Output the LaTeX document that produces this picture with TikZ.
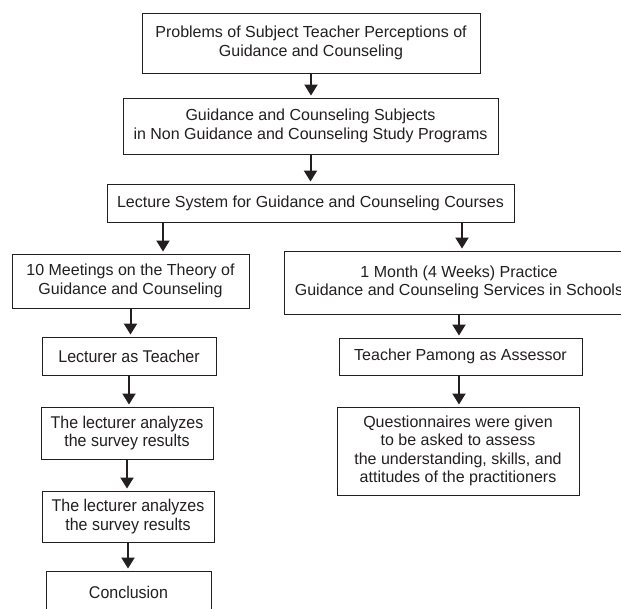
\documentclass[tikz,border=0pt]{standalone}
\usepackage{fontspec}
\setmainfont{Liberation Sans}
\newfontfamily\narrowfont[FakeStretch=0.94]{Liberation Sans}
\usetikzlibrary{arrows.meta}
\definecolor{ink}{HTML}{231F20}
\begin{document}
\begin{tikzpicture}[x=1pt,y=-1pt,
  box/.style={draw=ink, line width=0.9pt, align=center, text=ink, inner sep=0pt,
    font=\fontsize{16}{18.5}\selectfont},
  narrow/.style={font=\narrowfont\fontsize{17}{18.5}\selectfont},
  arr/.style={draw=ink, line width=2pt, -{Triangle[width=13pt,length=11pt]},
    shorten <=1pt, shorten >=2pt}]
\useasboundingbox (0,0) rectangle (621,608);
\fill[white] (0,0) rectangle (621,608);
% top chain
\node[box, minimum width=338pt, minimum height=60pt] (b1) at (311,43)
  {Problems of Subject Teacher Perceptions of\\Guidance and Counseling};
\node[box, minimum width=375pt, minimum height=56pt] (b2) at (310.5,126)
  {Guidance and Counseling Subjects\\in Non Guidance and Counseling Study Programs};
\node[box, minimum width=407pt, minimum height=38pt] (b3) at (310.5,203)
  {Lecture System for Guidance and Counseling Courses};
% left column
\node[box, minimum width=237pt, minimum height=54pt] (l1) at (130.5,281)
  {10 Meetings on the Theory of\\Guidance and Counseling};
\node[box, narrow, minimum width=174pt, minimum height=38pt] (l2) at (129,356)
  {Lecturer as Teacher};
\node[box, narrow, minimum width=172pt, minimum height=52pt] (l3) at (127,433)
  {The lecturer analyzes\\the survey results};
\node[box, narrow, minimum width=172pt, minimum height=51pt] (l4) at (128,516.5)
  {The lecturer analyzes\\the survey results};
\node[box, narrow, minimum width=165pt, minimum height=42pt] (l5) at (128.5,592)
  {Conclusion};
% right column
\node[box, minimum width=350pt, minimum height=63pt] (r1) at (459,282.5)
  {1 Month (4 Weeks) Practice\\Guidance and Counseling Services in Schools};
\node[box, minimum width=243pt, minimum height=37pt] (r2) at (460.5,356.5)
  {Teacher Pamong as Assessor};
\node[box, minimum width=242pt, minimum height=88pt] (r3) at (458,451)
  {Questionnaires were given\\to be asked to assess\\the understanding, skills, and\\attitudes of the practitioners};
% arrows
\draw[arr] (b1.south) -- (b1.south |- b2.north);
\draw[arr] (b2.south) -- (b2.south |- b3.north);
\draw[arr] ([xshift=32.5pt]l1.north |- b3.south) -- ([xshift=32.5pt]l1.north);
\draw[arr] ([xshift=3pt]r1.north |- b3.south) -- ([xshift=3pt]r1.north);
\draw[arr] (l1.south) -- (l1.south |- l2.north);
\draw[arr] (l2.south) -- (l2.south |- l3.north);
\draw[arr] (l3.south) -- (l3.south |- l4.north);
\draw[arr] (l4.south) -- (l4.south |- l5.north);
\draw[arr] (r1.south) -- (r1.south |- r2.north);
\draw[arr] (r1.south |- r2.south) -- (r1.south |- r3.north);
\end{tikzpicture}
\end{document}
